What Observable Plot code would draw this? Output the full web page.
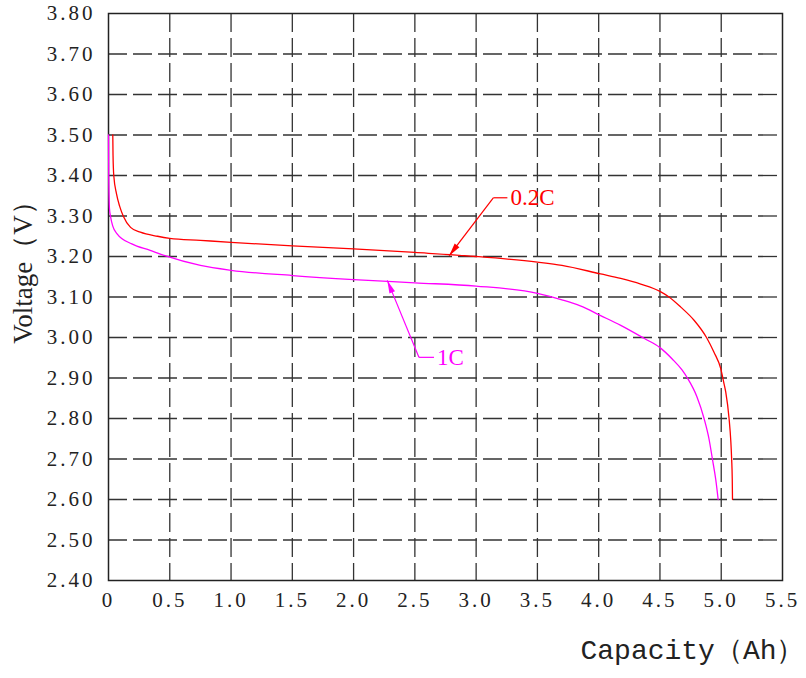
<!DOCTYPE html>
<html><head><meta charset="utf-8">
<script src="https://cdn.jsdelivr.net/npm/d3@7"></script>
<script src="https://cdn.jsdelivr.net/npm/@observablehq/plot@0.6"></script>
<style>
body{margin:0;background:#fff}
#chart svg g[aria-label="y-axis tick label"] text,
#chart svg g[aria-label="x-axis tick label"] text{letter-spacing:3px;font-family:'Liberation Serif',serif}
</style>
</head><body><div id="chart"></div>
<script>
// 0.2C discharge curve
const capacity02C = [0.035,0.037,0.043,0.065,0.092,0.12,0.18,0.26,0.4,0.5,0.75,1.0,1.5,2.0,2.5,3.0,3.5,3.7,4.016,4.18,4.343,4.5,4.574,4.67,4.78,4.88,4.94,4.996,5.02,5.037,5.064,5.078,5.085,5.09,5.092];
const voltage02C  = [3.50,3.45,3.40,3.355,3.323,3.30,3.272,3.26,3.25,3.245,3.24,3.235,3.226,3.219,3.21,3.20,3.186,3.178,3.157,3.146,3.132,3.114,3.10,3.075,3.042,3.00,2.964,2.923,2.89,2.865,2.80,2.745,2.70,2.65,2.60];
// 1C discharge curve
const capacity1C = [0.0,0.002,0.008,0.016,0.035,0.07,0.19,0.34,0.46,0.75,1.0,1.5,2.0,2.5,3.0,3.5,3.7,3.85,4.016,4.18,4.37,4.5,4.6,4.68,4.724,4.8,4.86,4.90,4.928,4.955,4.975];
const voltage1C  = [3.50,3.40,3.318,3.30,3.275,3.256,3.231,3.215,3.202,3.178,3.166,3.153,3.143,3.135,3.127,3.109,3.093,3.078,3.054,3.03,2.998,2.975,2.947,2.92,2.90,2.855,2.80,2.75,2.70,2.65,2.60];

const seriesNames  = ["0.2C","1C"];
const seriesColors = ["#ff0000","#ff00ff"];
// annotation leaders: arrow tip, elbow, end of short horizontal
const annTipX   = [2.78, 2.275];
const annTipY   = [3.202, 3.141];
const annElbowX = [3.14, 2.533];
const annElbowY = [3.345, 2.951];
const annEndX   = [3.255, 2.656];

const xTicks = [0,0.5,1.0,1.5,2.0,2.5,3.0,3.5,4.0,4.5,5.0,5.5];
const yTicks = [2.4,2.5,2.6,2.7,2.8,2.9,3.0,3.1,3.2,3.3,3.4,3.5,3.6,3.7,3.8];
const xGrid = xTicks.slice(1, -1);
const yGrid = yTicks.slice(1, -1);
const xLabel = "Capacity（Ah）";
const yLabel = "Voltage（V）";

const W = 806, H = 678, mL = 108, mR = 24, mT = 13, mB = 98;

const rows = [
  ...capacity02C.map((x,i)=>({x, y: voltage02C[i], s: seriesNames[0]})),
  ...capacity1C.map((x,i)=>({x, y: voltage1C[i], s: seriesNames[1]}))
];

const xs = Plot.scale({x: {domain: [0, 5.5], range: [mL, W - mR]}});
const ys = Plot.scale({y: {domain: [2.4, 3.8], range: [H - mB, mT]}});
const ann = seriesNames.map((name, i) => {
  const dx = xs.apply(annTipX[i]) - xs.apply(annElbowX[i]);
  const dy = ys.apply(annTipY[i]) - ys.apply(annElbowY[i]);
  return {name, color: seriesColors[i], tx: annTipX[i], ty: annTipY[i], ex: annElbowX[i], ey: annElbowY[i], hx: annEndX[i],
          angle: Math.atan2(dx, -dy) * 180 / Math.PI};
});

const arrowHead = {draw(ctx) { ctx.moveTo(0, 0); ctx.lineTo(-3, 13); ctx.lineTo(3, 13); ctx.closePath(); }};
const serif = "'Liberation Serif', serif";
const mono = "'Liberation Mono', monospace";

const chart = Plot.plot({
  width: W, height: H,
  marginLeft: mL, marginRight: mR, marginTop: mT, marginBottom: mB,
  style: {fontFamily: serif, fontSize: "21px", color: "#222", background: "#fff"},
  x: {domain: [0, 5.5]},
  y: {domain: [2.4, 3.8]},
  color: {domain: seriesNames, range: seriesColors},
  marks: [
    Plot.gridX(xGrid, {stroke: "#333", strokeOpacity: 1, strokeWidth: 1.3, strokeDasharray: "19,6"}),
    Plot.gridY(yGrid, {stroke: "#333", strokeOpacity: 1, strokeWidth: 1.3, strokeDasharray: "19,6"}),
    Plot.frame({stroke: "#222", strokeWidth: 1.5}),
    Plot.axisX(xTicks, {tickSize: 0, tickPadding: 12, label: null, fontSize: 21, fontFamily: serif,
      tickFormat: d => d === 0 ? "0" : d.toFixed(1)}),
    Plot.axisY(yTicks, {tickSize: 0, tickPadding: 13, label: null, fontSize: 21, fontFamily: serif,
      tickFormat: d => d.toFixed(2)}),
    Plot.line(rows, {x: "x", y: "y", z: "s", stroke: "s", strokeWidth: 1.3, curve: "monotone-x"}),
    Plot.link(ann, {x1: "ex", y1: "ey", x2: "tx", y2: "ty", stroke: "color", strokeWidth: 1.2}),
    Plot.link(ann, {x1: "ex", y1: "ey", x2: "hx", y2: "ey", stroke: "color", strokeWidth: 1.2}),
    Plot.dot(ann, {x: "tx", y: "ty", symbol: arrowHead, rotate: "angle", fill: "color", stroke: "none", r: 4}),
    Plot.text(ann, {x: "hx", y: "ey", text: "name", fill: "color", textAnchor: "start", dx: 3, fontSize: 23,
      fontFamily: serif}),
    Plot.text([yLabel], {frameAnchor: "left", textAnchor: "middle", dx: -85, dy: -31, rotate: -90, fontSize: 27,
      fontFamily: serif, fill: "#222"}),
    Plot.text([xLabel], {frameAnchor: "bottom-right", textAnchor: "end", dx: 22, dy: 78, fontSize: 28,
      fontFamily: mono, fill: "#222"})
  ]
});
document.getElementById("chart").append(chart);
</script>
</body></html>
